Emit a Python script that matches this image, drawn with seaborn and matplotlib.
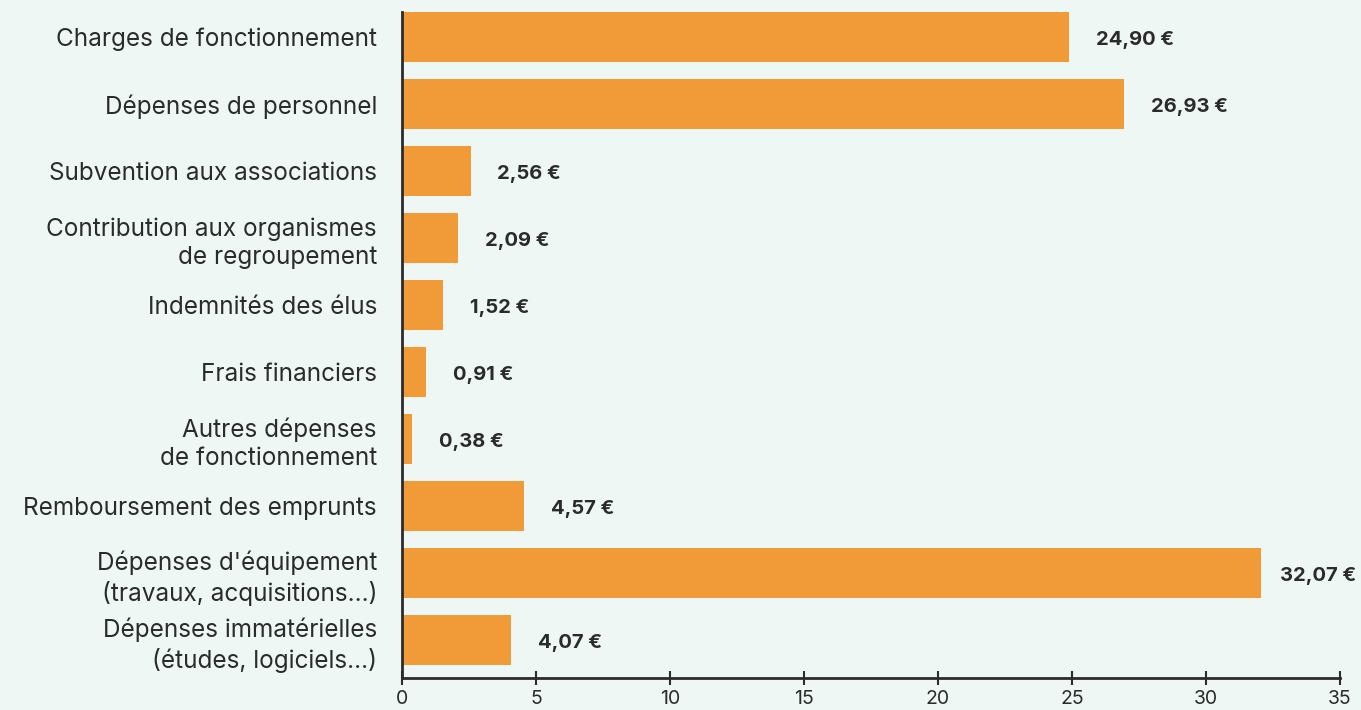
import numpy as np
import pandas as pd
import matplotlib
matplotlib.use('Agg')
import matplotlib.pyplot as plt
import seaborn as sns

categories = ['Charges de fonctionnement', 'Dépenses de personnel', 'Subvention aux associations',
              'Contribution aux organismes\nde regroupement', 'Indemnités des élus', 'Frais financiers',
              'Autres dépenses\nde fonctionnement', 'Remboursement des emprunts',
              "Dépenses d'équipement\n(travaux, acquisitions...)", 'Dépenses immatérielles\n(études, logiciels...)']
values = [24.90, 26.93, 2.56, 2.09, 1.52, 0.91, 0.38, 4.57, 32.07, 4.07]
value_labels = ['24,90 €', '26,93 €', '2,56 €', '2,09 €', '1,52 €', '0,91 €', '0,38 €', '4,57 €', '32,07 €', '4,07 €']
xticks = [0, 5, 10, 15, 20, 25, 30, 35]

df = pd.DataFrame({'cat': categories, 'val': values})

bg = '#EEF7F3'
orange = '#F09A38'
dark = '#2B2B2B'

sns.set_style('white')
plt.rcParams['font.family'] = ['Inter', 'DejaVu Sans']

fig = plt.figure(figsize=(13.61, 7.10), dpi=100, facecolor=bg)
ax = fig.add_axes([402 / 1361, 32 / 710, 938 / 1361, 666 / 710])
ax.set_facecolor(bg)

sns.barplot(data=df, x='val', y='cat', color=orange, width=0.75, saturation=1, linewidth=0, ax=ax)

# value labels, pulled in a bit when they would run off the right edge
for i, (v, lab) in enumerate(zip(values, value_labels)):
    ax.text(min(v + 1.0, 32.75), i + 0.05, lab, va='center', ha='left',
            fontsize=14.5, fontweight='bold', color=dark, clip_on=False)

ax.set_xlim(0, 35)
ax.set_ylim(9.57, -0.37)
ax.set_xticks(xticks)
ax.set_xticklabels([str(t) for t in xticks], fontsize=14, color=dark)
ax.set_yticks(range(len(categories)))
ax.set_yticklabels(categories, fontsize=17.5, color=dark, linespacing=1.3)
ax.tick_params(axis='y', left=False, length=0, pad=18)
ax.tick_params(axis='x', bottom=True, direction='inout', length=10, width=1.5, color=dark, pad=4)
ax.set_xlabel('')
ax.set_ylabel('')
for s in ['top', 'right']:
    ax.spines[s].set_visible(False)
for s in ['left', 'bottom']:
    ax.spines[s].set_color(dark)
    ax.spines[s].set_linewidth(2)

fig.savefig('out.png', dpi=100, facecolor=bg)
